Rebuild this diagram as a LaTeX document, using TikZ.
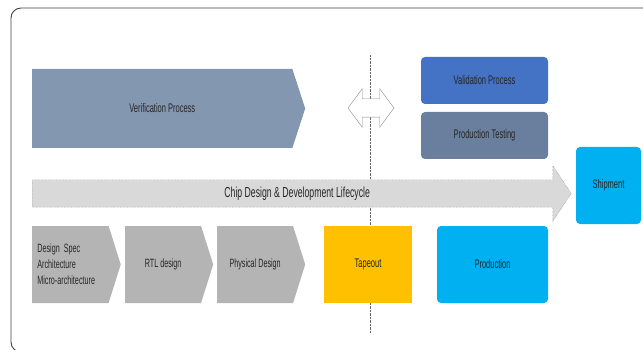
\documentclass[tikz,border=0pt]{standalone}
\usepackage{fontspec}
\setmainfont{Liberation Sans}[FakeStretch=0.6]
\usetikzlibrary{shapes.arrows}

\definecolor{verifblue}{RGB}{132,151,176}
\definecolor{validblue}{RGB}{68,114,196}
\definecolor{testslate}{RGB}{106,127,158}
\definecolor{chipgray}{RGB}{180,180,180}
\definecolor{lifegray}{RGB}{217,217,217}
\definecolor{tapeyellow}{RGB}{255,192,0}
\definecolor{prodcyan}{RGB}{0,176,240}

\tikzset{
    stagebox/.style={rounded corners=4pt, minimum width=127pt, minimum height=47pt, inner sep=0pt, text=black!85, font=\fontsize{12.5}{14}\selectfont},
    chevron/.style={single arrow, single arrow head extend=0pt, single arrow tip angle=145, minimum height=88pt, minimum width=77pt, inner sep=0pt, fill=chipgray, text=black!85, font=\fontsize{12}{16}\selectfont},
}

\begin{document}
\begin{tikzpicture}[x=1pt,y=-1pt]
            \useasboundingbox (0,0) rectangle (643,350);
            \clip (0,0) rectangle (643,350);
            \draw[black!75, line width=0.9pt, rounded corners=10pt] (11,8) rectangle (680,352);
            % gate line
            \coordinate (gatetop) at (370,55);
            \coordinate (gatebot) at (370,333);
            \draw[black!60, densely dotted] (gatetop) -- (gatebot);
            \node[double arrow, draw=black!45, fill=white, double arrow head extend=10pt, double arrow tip angle=107, minimum height=46pt, minimum width=38pt, inner xsep=0pt, inner ysep=9pt] (gate) at (371,108) {};
            % upper row
            \node[chevron, fill=verifblue, minimum height=273pt, minimum width=79pt, single arrow tip angle=144, anchor=tail, font=\fontsize{12.5}{14}\selectfont] (verif) at (32,108.5) {Verification Process};
            \node[stagebox, fill=validblue] (valid) at (484.5,80.5) {Validation Process};
            \node[stagebox, fill=testslate] (prodtest) at (484.5,135.5) {Production Testing};
            % lifecycle
            \node[single arrow, draw=black!55, densely dotted, fill=lifegray, single arrow head extend=14pt, single arrow tip angle=113, minimum height=539pt, minimum width=55pt, inner xsep=0pt, inner ysep=7pt, text height=10pt, text depth=3pt, anchor=tail, text=black!85, font=\fontsize{14.5}{16}\selectfont] (life) at (32,193.5) {Chip Design \& Development Lifecycle};
            \node[stagebox, fill=prodcyan, minimum width=65pt, minimum height=77pt] (ship) at (608.5,185.5) {Shipment};
            % lower row
            \node[chevron, anchor=tail, align=left, text width=66pt, inner xsep=5pt] (spec) at (32,264.5) {Design Spec\\Architecture\\Micro-architecture};
            \node[chevron, anchor=tail] (rtl) at (125,264.5) {RTL design};
            \node[chevron, anchor=tail] (phys) at (217,264.5) {Physical Design};
            \node[fill=tapeyellow, minimum width=88pt, minimum height=77pt, inner sep=0pt, text=black!85, font=\fontsize{12.5}{14}\selectfont] (tape) at (368,264.5) {Tapeout};
            \node[stagebox, fill=prodcyan, minimum width=111pt, minimum height=77pt] (prod) at (492.5,264.5) {Production};
        \end{tikzpicture}
\end{document}
